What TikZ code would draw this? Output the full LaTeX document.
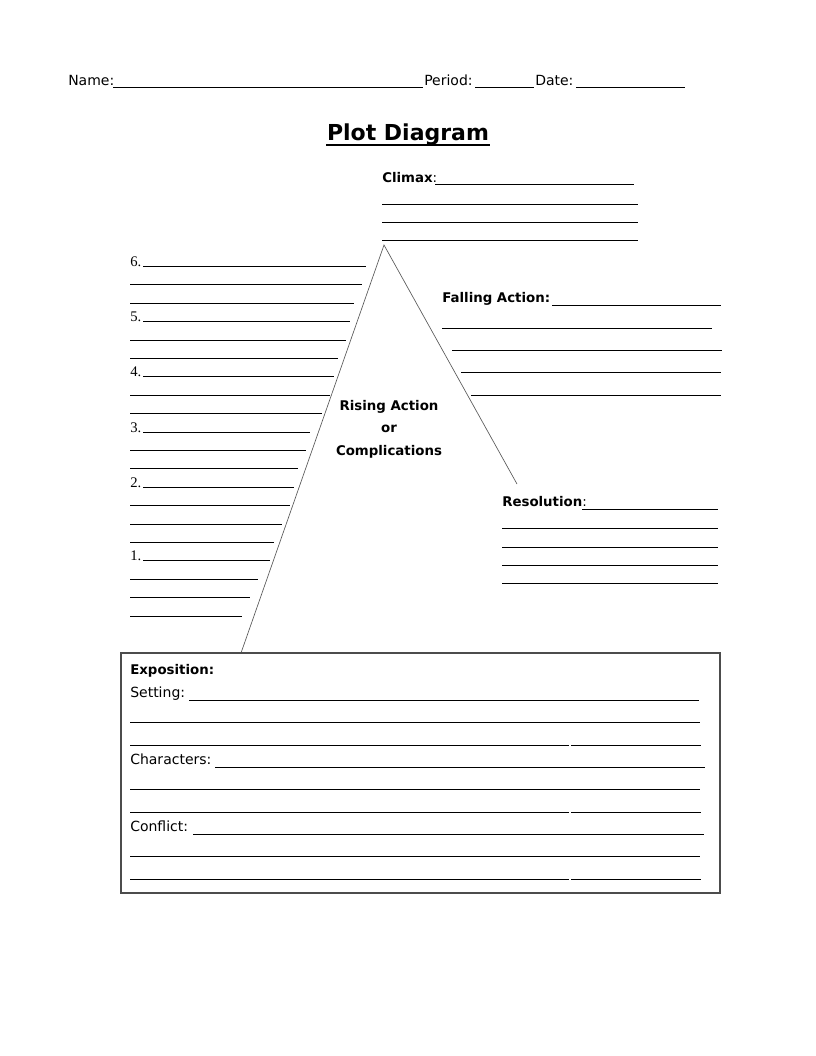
\documentclass[tikz,border=0pt]{standalone}
\usepackage{fontspec}
\setmainfont{DejaVu Sans}
\newfontfamily\numfont{Liberation Serif}
\usetikzlibrary{calc}

\tikzset{
 lbl/.style={anchor=base west, inner sep=0, font=\fontsize{10.5}{12}\selectfont},
 blbl/.style={lbl, font=\fontsize{10}{12}\selectfont\bfseries},
 numlbl/.style={anchor=base west, inner sep=0, font=\numfont\fontsize{11}{13}\selectfont},
 blank/.style={black, line width=0.7pt},
 leg/.style={black!65, line width=0.5pt}
}

\begin{document}
\begin{tikzpicture}[x=0.75pt, y=-0.75pt]
\useasboundingbox (0,0) rectangle (816,1056);
% header
\node[lbl] (name) at (68,85) {Name:};
\node[lbl] (period) at (424,85) {Period:};
\node[lbl] (date) at (535,85) {Date:};
\draw[blank] (113,87)--(423,87);
\draw[blank] (475,87)--(534,87);
\draw[blank] (576,87)--(685,87);
\node[anchor=base, inner sep=0, font=\fontsize{16.5}{20}\selectfont\bfseries] (title) at (408,140) {Plot Diagram};
\draw[black, line width=1.4pt] (326,145)--(490,145);

% climax
\coordinate (peak) at (384,245);
\coordinate (foot) at (241,653);
\coordinate (down) at (517,484);
\node[blbl] (climax) at (382,182) {Climax\textmd{:}};
\draw[blank] (435,184)--(634,184);
\foreach \y in {204,222,240} \draw[blank] (382,\y)--(638,\y);
\draw[leg] (foot)--(peak)--(down);

% rising action
\foreach \n/\y/\xe in {6/266/366, 5/321/350, 4/376/334, 3/432/310, 2/487/294, 1/560/270} {
 \node[numlbl] (n\n) at (130,\y) {\n.};
 \draw[blank] (143,\y)--(\xe,\y);
}
\foreach \y/\xe in {284/362, 303/354, 340/346, 358/338, 395/330, 413/322, 450/306, 468/298, 505/290, 524/282, 542/274, 579/258, 597/250, 616/242}
 \draw[blank] (130,\y)--(\xe,\y);
\node[align=center, font=\fontsize{10}{16.9}\selectfont\bfseries] (rising) at (389,429) {Rising Action\\or\\Complications};

% falling action
\node[blbl] (falling) at (442,302) {Falling Action:};
\draw[blank] (552,305)--(721,305);
\foreach \y/\xs/\xe in {328/442/712, 350/452/722, 372/461/721, 395/471/721}
 \draw[blank] (\xs,\y)--(\xe,\y);

% resolution
\node[blbl] (resol) at (502,506) {Resolution\textmd{:}};
\draw[blank] (582,509)--(718,509);
\foreach \y in {528,547,565,583} \draw[blank] (502,\y)--(718,\y);

% exposition box
\draw[black!70, line width=1.6pt] (121,653) rectangle (720,893);
\node[blbl] (expo) at (130,674) {Exposition:};
\node[lbl] (setting) at (130,697) {Setting:};
\node[lbl] (chars) at (130,764) {Characters:};
\node[lbl] (confl) at (130,831) {Conflict:};
\draw[blank] (189,700)--(699,700);
\draw[blank] (215,767)--(705,767);
\draw[blank] (193,834)--(704,834);
\foreach \y in {722,789,856} \draw[blank] (130,\y)--(700,\y);
\foreach \y in {745,812,879} {
 \draw[blank] (130,\y)--(569,\y);
 \draw[blank] (571,\y)--(701,\y);
}
\end{tikzpicture}
\end{document}
